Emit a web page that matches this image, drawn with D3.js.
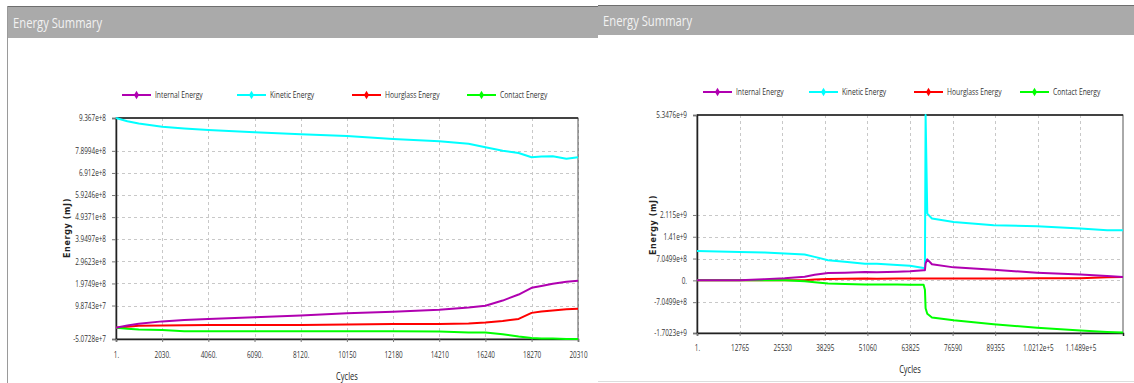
<!DOCTYPE html>
<html><head><meta charset="utf-8">
<script src="https://cdn.jsdelivr.net/npm/d3@7"></script>
<style>
html,body{margin:0;padding:0;background:#fff;}
svg{display:block;font-family:"Open Sans","Noto Sans",sans-serif;}
</style></head>
<body>
<svg id="c" width="1134" height="383"></svg>
<script>
// ---------- DATA ----------
const seriesNames = ["Internal Energy","Kinetic Energy","Hourglass Energy","Contact Energy"];
const seriesColors = ["#b000b0","#00ffff","#ff0000","#00ff00"];

// Left chart
const cyclesL = [1,500,1000,2030,3000,4060,6090,8120,10150,12180,14210,15500,16240,17000,17700,18270,18700,19200,19800,20310];
const internalL = [0,1.0e7,1.7e7,2.8e7,3.4e7,3.9e7,4.6e7,5.4e7,6.4e7,7.1e7,8.0e7,9.0e7,9.8e7,1.21e8,1.48e8,1.78e8,1.86e8,1.96e8,2.05e8,2.10e8];
const kineticL = [9.367e8,9.22e8,9.12e8,8.98e8,8.90e8,8.83e8,8.73e8,8.64e8,8.56e8,8.43e8,8.33e8,8.22e8,8.06e8,7.90e8,7.80e8,7.61e8,7.65e8,7.66e8,7.55e8,7.61e8];
const hourglassL = [0,0.4e7,0.8e7,1.0e7,1.1e7,1.2e7,1.2e7,1.2e7,1.4e7,1.65e7,1.65e7,1.8e7,2.3e7,3.0e7,3.9e7,6.6e7,7.2e7,7.7e7,8.2e7,8.4e7];
const contactL = [0,-0.5e7,-0.8e7,-1.0e7,-1.6e7,-1.6e7,-1.6e7,-1.6e7,-1.6e7,-1.6e7,-1.7e7,-2.2e7,-2.2e7,-2.9e7,-4.0e7,-4.6e7,-4.8e7,-4.9e7,-5.07e7,-5.07e7];
const yTicksL = [-5.0728e7,9.8743e7,1.9749e8,2.9623e8,3.9497e8,4.9371e8,5.9246e8,6.912e8,7.8994e8,9.367e8];
const yLabelsL = ["-5.0728e+7","9.8743e+7","1.9749e+8","2.9623e+8","3.9497e+8","4.9371e+8","5.9246e+8","6.912e+8","7.8994e+8","9.367e+8"];
const xTicksL = [1,2030,4060,6090,8120,10150,12180,14210,16240,18270,20310];
const xLabelsL = ["1.","2030.","4060.","6090.","8120.","10150","12180","14210","16240","18270","20310"];

// Right chart
const cyclesR = [1,12765,20250,26250,32260,35270,39270,44280,50300,53930,60000,63825,67900,68300,68500,69000,70400,76900,88900,101900,114900,122900,127651];
const internalR = [0,0,0.04e9,0.07e9,0.12e9,0.18e9,0.24e9,0.25e9,0.27e9,0.26e9,0.28e9,0.295e9,0.33e9,0.33e9,0.55e9,0.68e9,0.52e9,0.42e9,0.34e9,0.25e9,0.19e9,0.14e9,0.11e9];
const kineticR = [0.95e9,0.92e9,0.90e9,0.87e9,0.835e9,0.76e9,0.65e9,0.60e9,0.54e9,0.54e9,0.50e9,0.47e9,0.40e9,0.40e9,5.3476e9,2.16e9,2.00e9,1.89e9,1.78e9,1.75e9,1.68e9,1.62e9,1.62e9];
const hourglassR = [0,0,0,0,0,0.03e9,0.04e9,0.05e9,0.06e9,0.05e9,0.06e9,0.06e9,0.06e9,0.06e9,0.06e9,0.06e9,0.06e9,0.06e9,0.06e9,0.065e9,0.07e9,0.10e9,0.11e9];
const contactR = [0,0,0,0,-0.03e9,-0.06e9,-0.10e9,-0.12e9,-0.13e9,-0.13e9,-0.13e9,-0.14e9,-0.14e9,-0.30e9,-0.9e9,-1.08e9,-1.2e9,-1.29e9,-1.42e9,-1.53e9,-1.62e9,-1.67e9,-1.69e9];
const yTicksR = [-1.7023e9,-7.0499e8,0,7.0499e8,1.41e9,2.115e9,5.3476e9];
const yLabelsR = ["-1.7023e+9","-7.0499e+8","0.","7.0499e+8","1.41e+9","2.115e+9","5.3476e+9"];
const xTicksR = [1,12765,25530,38295,51060,63825,76590,89355,102120,114890];
const xLabelsR = ["1.","12765","25530","38295","51060","63825","76590","89355","1.0212e+5","1.1489e+5"];

// ---------- DRAW ----------
const SX = 0.75; // horizontal glyph compression of the original screenshot
function narrow(sel){
  sel.each(function(){
    const t = d3.select(this);
    const x = +t.attr("x") || 0;
    t.attr("x", x / SX).attr("transform", `scale(${SX},1)`);
  });
}
const svg = d3.select("#c");

// panel chrome
svg.append("line").attr("x1",7.5).attr("x2",7.5).attr("y1",6).attr("y2",383).attr("stroke","#9a9a9a").attr("stroke-width",1);
svg.append("rect").attr("x",8).attr("y",7).attr("width",590).attr("height",31).attr("fill","#aaaaaa");
svg.append("line").attr("x1",8).attr("x2",598).attr("y1",6.5).attr("y2",6.5).attr("stroke","#6e6e6e");
svg.append("rect").attr("x",598).attr("y",6).attr("width",536).attr("height",29).attr("fill","#aaaaaa");
svg.append("line").attr("x1",598).attr("x2",1134).attr("y1",5.5).attr("y2",5.5).attr("stroke","#6e6e6e");
narrow(svg.append("text").attr("x",13).attr("y",28).attr("font-size",15).attr("fill","#f2f2f2").text("Energy Summary"));
narrow(svg.append("text").attr("x",603).attr("y",26).attr("font-size",15).attr("fill","#f2f2f2").text("Energy Summary"));
svg.append("line").attr("x1",598).attr("x2",1134).attr("y1",381.5).attr("y2",381.5).attr("stroke","#dddddd");

function drawChart(o){
  const g = svg.append("g");
  const x = d3.scaleLinear().domain(o.xDomain).range([o.left,o.right]);
  const y = d3.scaleLinear().domain(o.yDomain).range([o.bottom,o.top]);

  // grid
  g.selectAll(".gx").data(o.xTicks.slice(1)).enter().append("line")
    .attr("x1",d=>Math.round(x(d))+0.5).attr("x2",d=>Math.round(x(d))+0.5)
    .attr("y1",o.top).attr("y2",o.bottom)
    .attr("stroke","#c8c8c8").attr("stroke-dasharray","3,3");
  g.selectAll(".gy").data(o.gridY).enter().append("line")
    .attr("y1",d=>Math.round(y(d))+0.5).attr("y2",d=>Math.round(y(d))+0.5)
    .attr("x1",o.left).attr("x2",o.right)
    .attr("stroke","#c8c8c8").attr("stroke-dasharray","3,3");

  // frame
  g.append("rect").attr("x",o.left).attr("y",o.top).attr("width",o.right-o.left).attr("height",o.bottom-o.top)
    .attr("fill","none").attr("stroke","#555").attr("stroke-width",1);
  g.append("line").attr("x1",o.left).attr("x2",o.right).attr("y1",o.top).attr("y2",o.top).attr("stroke","#222").attr("stroke-width",1.5);

  // axes via d3
  const yAxis = d3.axisLeft(y).tickValues(o.yTicks).tickFormat((d,i)=>o.yLabels[i]).tickSize(4).tickPadding(6);
  const ya = g.append("g").attr("transform",`translate(${o.left},0)`).call(yAxis);
  const xAxis = d3.axisBottom(x).tickValues(o.xTicks).tickFormat((d,i)=>o.xLabels[i]).tickSize(3).tickPadding(o.xPad);
  const xa = g.append("g").attr("transform",`translate(0,${o.bottom})`).call(xAxis);
  [ya,xa].forEach(a=>{
    a.attr("font-family",null).attr("font-size",null);
    a.select(".domain").attr("stroke","#222").attr("stroke-width",1.5);
    a.selectAll(".tick line").attr("stroke","#777");
    a.selectAll(".tick text").attr("font-size",8.5).attr("fill","#333").call(narrow);
  });

  // lines
  const line = d3.line().x((d,i)=>x(o.cycles[i])).y(d=>y(d));
  const order = [2,3,1,0];
  order.forEach(k=>{
    g.append("path").datum(o.series[k]).attr("d",line)
      .attr("fill","none").attr("stroke",seriesColors[k]).attr("stroke-width",2).attr("stroke-linejoin","round");
  });

  // legend
  o.legendX.forEach((lx,i)=>{
    g.append("line").attr("x1",lx).attr("x2",lx+29).attr("y1",o.legendY).attr("y2",o.legendY)
      .attr("stroke",seriesColors[i]).attr("stroke-width",2);
    g.append("path").attr("d",d3.symbol(d3.symbolDiamond,22)()).attr("transform",`translate(${lx+14.5},${o.legendY})`)
      .attr("fill",seriesColors[i]);
    narrow(g.append("text").attr("x",lx+33).attr("y",o.legendY+3).attr("font-size",9).attr("fill","#333").text(seriesNames[i]));
  });

  // axis titles
  g.append("text").attr("transform",`translate(${o.yTitleX},${o.yTitleY}) rotate(-90)`)
    .attr("text-anchor","middle").attr("font-size",8).attr("font-weight","bold").attr("fill","#222")
    .attr("font-family","'DejaVu Sans',sans-serif").attr("letter-spacing",0.6).attr("textLength",60).text("Energy (mJ)");
  narrow(g.append("text").attr("x",o.xTitleX).attr("y",o.xTitleY).attr("text-anchor","middle")
    .attr("font-size",10).attr("fill","#222").text("Cycles"));
}

drawChart({
  left:116, right:578, top:118, bottom:339,
  xDomain:[1,20310], yDomain:[yTicksL[0], yTicksL[yTicksL.length-1]],
  cycles:cyclesL, series:[internalL,kineticL,hourglassL,contactL],
  yTicks:yTicksL, yLabels:yLabelsL, gridY:yTicksL.slice(1,-1),
  xTicks:xTicksL, xLabels:xLabelsL, xPad:10,
  legendX:[122,237,352,467], legendY:95,
  yTitleX:70, yTitleY:228, xTitleX:347, xTitleY:380
});
drawChart({
  left:697, right:1123, top:115, bottom:333,
  xDomain:[1,127651], yDomain:[yTicksR[0], yTicksR[yTicksR.length-1]],
  cycles:cyclesR, series:[internalR,kineticR,hourglassR,contactR],
  yTicks:yTicksR, yLabels:yLabelsR, gridY:yTicksR.slice(1,-1),
  xTicks:xTicksR, xLabels:xLabelsR, xPad:9,
  legendX:[703,809,914,1020], legendY:92,
  yTitleX:656, yTitleY:225, xTitleX:910, xTitleY:373
});
</script>
</body></html>
